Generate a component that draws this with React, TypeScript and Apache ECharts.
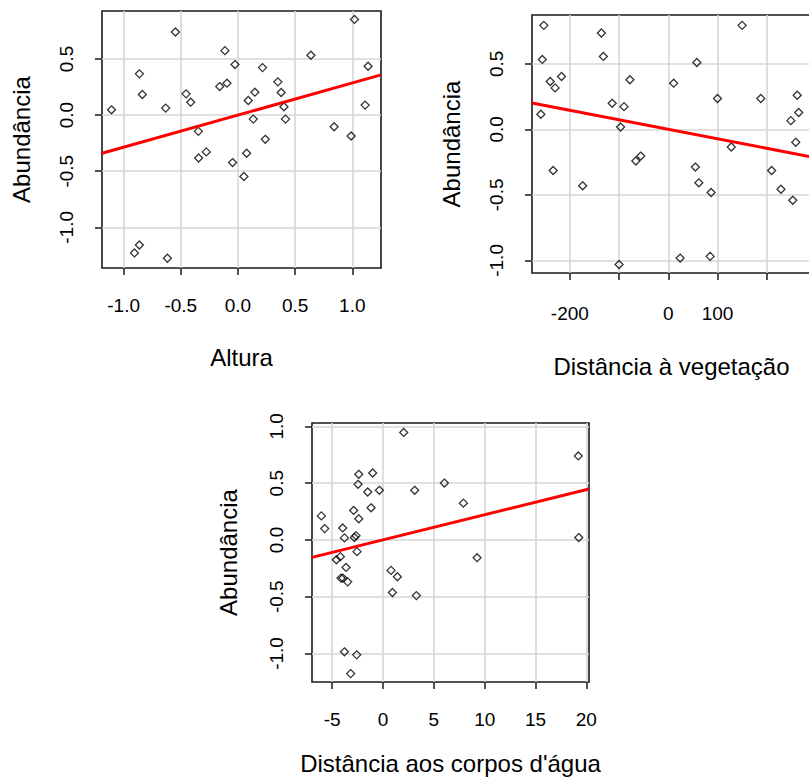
import React, { useEffect, useRef } from "react";
import * as echarts from "echarts";

const FONT = "'Liberation Sans', Arial, Helvetica, sans-serif";

// Panel 1: Altura
const alturaX = [-1.106, -0.862, -0.836, -0.547, -0.632, -0.454, -0.413, -0.346, -0.344, -0.277, -0.114, -0.16, -0.096, -0.026, -0.047, 0.052, 0.076, 0.09, 0.148, 0.134, 0.215, 0.239, 0.349, 0.378, 0.402, 0.416, 0.638, 0.841, 0.99, 1.019, 1.112, 1.138, -0.905, -0.862, -0.617];
const alturaY = [0.047, 0.367, 0.183, 0.74, 0.062, 0.189, 0.115, -0.145, -0.382, -0.328, 0.574, 0.254, 0.284, 0.45, -0.423, -0.547, -0.34, 0.13, 0.204, -0.036, 0.423, -0.216, 0.296, 0.201, 0.074, -0.036, 0.533, -0.104, -0.186, 0.852, 0.089, 0.435, -1.228, -1.157, -1.275];
const alturaFit = { intercept: 0, slope: 0.286 };
const alturaXTicks = [-1, -0.5, 0, 0.5, 1];
const alturaYTicks = [-1, -0.5, 0, 0.5];

// Panel 2: Distância à vegetação
const vegX = [-253, -256, -259, -240, -230, -217, -234, -174, -136, -132, -114, -90, -78, -97, -66, -56, -100, 11, 58, 55, 62, 87, 24, 85, 100, 128, 150, 188, 210, 229, 253, 249, 262, 265, 259];
const vegY = [0.793, 0.533, 0.115, 0.365, 0.316, 0.403, -0.314, -0.431, 0.735, 0.556, 0.199, 0.173, 0.378, 0.018, -0.242, -0.204, -1.031, 0.352, 0.51, -0.288, -0.408, -0.482, -0.982, -0.969, 0.235, -0.135, 0.793, 0.235, -0.314, -0.457, -0.541, 0.066, 0.26, 0.128, -0.099];
const vegFit = { intercept: 0, slope: -0.000723 };
const vegXTicks = [-200, -100, 0, 100, 200];
const vegXLabels = [-200, 0, 100];
const vegYTicks = [-1, -0.5, 0, 0.5];

// Panel 3: Distância aos corpos d'água
const aguaX = [-6.07, -5.74, -3.97, -3.8, -4.59, -4.2, -3.64, -4.13, -3.95, -3.48, -2.89, -2.66, -2.82, -2.39, -2.46, -2.39, -2.56, -1.51, -1.02, -1.18, -0.36, 0.79, 1.41, 0.92, 2.03, 3.11, 3.28, 6.03, 7.9, 9.25, 19.21, 19.25, -3.8, -2.59, -3.18];
const aguaY = [0.212, 0.1, 0.106, 0.018, -0.174, -0.147, -0.242, -0.336, -0.336, -0.369, 0.26, 0.038, 0.021, 0.578, 0.49, 0.186, -0.103, 0.422, 0.59, 0.283, 0.437, -0.268, -0.324, -0.463, 0.947, 0.437, -0.49, 0.501, 0.324, -0.156, 0.74, 0.021, -0.985, -1.012, -1.177];
const aguaFit = { intercept: 0.001, slope: 0.0221 };
const aguaXTicks = [-5, 0, 5, 10, 15, 20];
const aguaYTicks = [-1, -0.5, 0, 0.5, 1];

const yName = "Abundância";
const xNames = ["Altura", "Distância à vegetação", "Distância aos corpos d'água"];

const fmt1 = (v: number) => v.toFixed(1);
const fmt0 = (v: number) => String(v);

type Panel = {
  grid: { left: number; top: number; width: number; height: number };
  xRange: [number, number];
  yRange: [number, number];
  xTicks: number[];
  xLabels: number[];
  yTicks: number[];
  xFmt: (v: number) => string;
  xs: number[];
  ys: number[];
  fit: { intercept: number; slope: number };
  xName: string;
  xNameGap: number;
  xLabelMargin: number;
  yNameGap: number;
};

const panels: Panel[] = [
  {
    grid: { left: 102, top: 11, width: 279, height: 257 },
    xRange: [-1.189, 1.251],
    yRange: [-1.362, 0.927],
    xTicks: alturaXTicks,
    xLabels: alturaXTicks,
    yTicks: alturaYTicks,
    xFmt: fmt1,
    xs: alturaX,
    ys: alturaY,
    fit: alturaFit,
    xName: xNames[0],
    xNameGap: 77,
    xLabelMargin: 28,
    yNameGap: 69,
  },
  {
    grid: { left: 532, top: 15, width: 279, height: 258 },
    xRange: [-277, 290],
    yRange: [-1.096, 0.872],
    xTicks: vegXTicks,
    xLabels: vegXLabels,
    yTicks: vegYTicks,
    xFmt: fmt0,
    xs: vegX,
    ys: vegY,
    fit: vegFit,
    xName: xNames[1],
    xNameGap: 81,
    xLabelMargin: 31,
    yNameGap: 69,
  },
  {
    grid: { left: 312, top: 423, width: 277, height: 259 },
    xRange: [-6.99, 20.26],
    yRange: [-1.251, 1.03],
    xTicks: aguaXTicks,
    xLabels: aguaXTicks,
    yTicks: aguaYTicks,
    xFmt: fmt0,
    xs: aguaX,
    ys: aguaY,
    fit: aguaFit,
    xName: xNames[2],
    xNameGap: 69,
    xLabelMargin: 28,
    yNameGap: 72,
  },
];

function buildOption() {
  const grids: any[] = [];
  const xAxes: any[] = [];
  const yAxes: any[] = [];
  const series: any[] = [];
  panels.forEach((p, i) => {
    grids.push({
      ...p.grid,
      show: true,
      borderColor: "#1a1a1a",
      borderWidth: 1.6,
      backgroundColor: "#fff",
      containLabel: false,
    });
    const tickStyle = { show: true, length: 7, lineStyle: { color: "#1a1a1a", width: 1.5 } };
    const splitStyle = { show: true, lineStyle: { color: "#d6d6d6", width: 1.6 } };
    const labelStyle = { color: "#000", fontSize: 19, fontFamily: FONT };
    xAxes.push({
      type: "value",
      gridIndex: i,
      min: p.xRange[0],
      max: p.xRange[1],
      axisLine: { show: false, onZero: false },
      axisTick: { ...tickStyle, customValues: p.xTicks },
      axisLabel: { ...labelStyle, customValues: p.xLabels, formatter: p.xFmt, margin: p.xLabelMargin },
      splitLine: splitStyle,
      name: p.xName,
      nameLocation: "middle",
      nameGap: p.xNameGap,
      nameTextStyle: { color: "#000", fontSize: 24, fontFamily: FONT },
    });
    yAxes.push({
      type: "value",
      gridIndex: i,
      min: p.yRange[0],
      max: p.yRange[1],
      axisLine: { show: false, onZero: false },
      axisTick: { ...tickStyle, customValues: p.yTicks },
      axisLabel: { ...labelStyle, customValues: p.yTicks, formatter: fmt1, rotate: 90, margin: 26 },
      splitLine: splitStyle,
      name: yName,
      nameLocation: "middle",
      nameGap: p.yNameGap,
      nameTextStyle: { color: "#000", fontSize: 24, fontFamily: FONT },
    });
    series.push({
      type: "scatter",
      xAxisIndex: i,
      yAxisIndex: i,
      symbol: "diamond",
      symbolSize: 8,
      itemStyle: { color: "rgba(0,0,0,0)", borderColor: "#000", borderWidth: 1.3 },
      data: p.xs.map((x, k) => [x, p.ys[k]]),
      silent: true,
      z: 3,
    });
    const [x0, x1] = p.xRange;
    series.push({
      type: "line",
      xAxisIndex: i,
      yAxisIndex: i,
      showSymbol: false,
      symbol: "none",
      lineStyle: { color: "#ff0000", width: 3 },
      data: [
        [x0, p.fit.intercept + p.fit.slope * x0],
        [x1, p.fit.intercept + p.fit.slope * x1],
      ],
      silent: true,
      z: 4,
    });
  });
  return {
    animation: false,
    backgroundColor: "#fff",
    textStyle: { fontFamily: FONT },
    grid: grids,
    xAxis: xAxes,
    yAxis: yAxes,
    series,
  };
}

export default function App() {
  const ref = useRef<HTMLDivElement>(null);
  useEffect(() => {
    if (!ref.current) return;
    const chart = echarts.init(ref.current, undefined, { renderer: "svg" });
    chart.setOption(buildOption() as any);
    return () => chart.dispose();
  }, []);
  return (
    <div style={{ position: "absolute", left: 0, top: 0, width: 809, height: 778, overflow: "hidden", background: "#fff" }}>
      <div ref={ref} style={{ width: 830, height: 778 }} />
    </div>
  );
}
